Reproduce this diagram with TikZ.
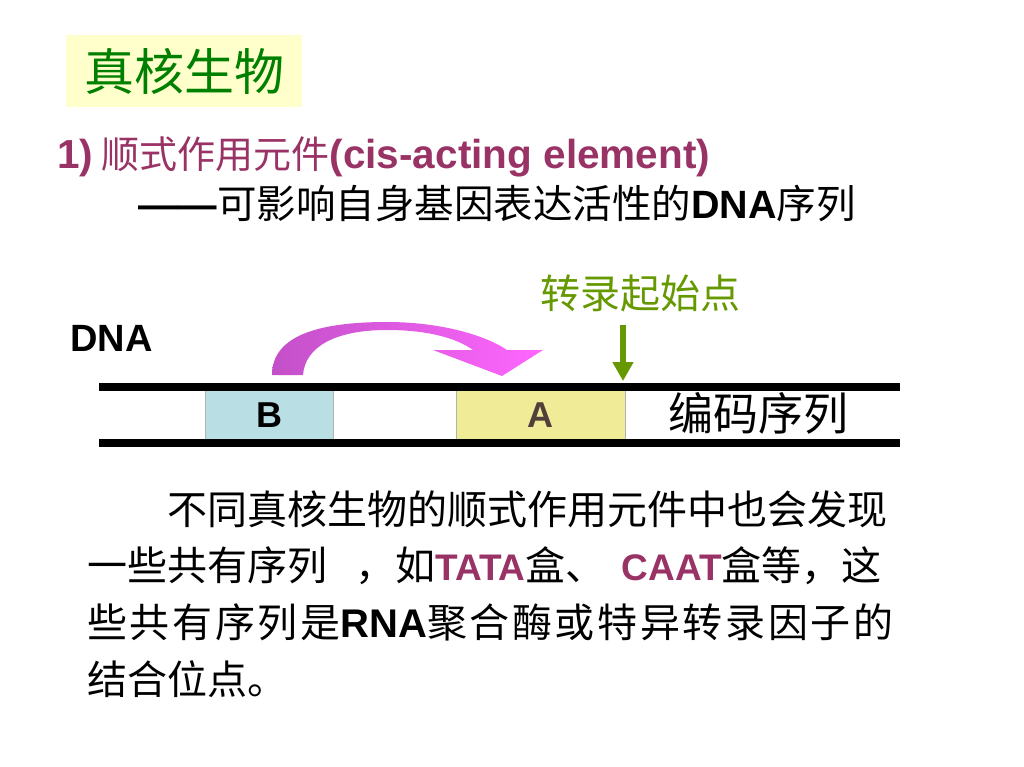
\documentclass[tikz,border=0pt]{standalone}
\usepackage{fontspec}
\setmainfont{Noto Sans CJK SC}
\newfontfamily\latfont{Liberation Sans}
\newfontfamily\cjkwide{Noto Sans CJK SC}[LetterSpace=6.6]
\usetikzlibrary{arrows.meta, positioning}
\newcommand\fsz[1]{\fontsize{#1}{#1}\selectfont}
\newcommand\lat[1]{{\latfont\bfseries #1}}
\newcommand\kw[1]{{\color{keypurple}\latfont\bfseries\fsz{37}#1}}
\definecolor{titlebg}{RGB}{255,255,204}
\definecolor{titlegreen}{RGB}{0,128,0}
\definecolor{keypurple}{RGB}{153,51,102}
\definecolor{tssgreen}{RGB}{102,153,0}
\definecolor{boxB}{RGB}{185,222,228}
\definecolor{boxA}{RGB}{240,235,150}
\definecolor{letterA}{RGB}{80,64,60}
\definecolor{pinkdark}{RGB}{195,80,200}
\definecolor{pinklight}{RGB}{255,102,255}
\tikzset{
  titlebox/.style = {fill=titlebg, text=titlegreen, minimum width=236pt, minimum height=72pt, inner sep=0pt, font=\fsz{50}},
  txt/.style = {anchor=west, inner sep=0pt, font=\fsz{40}},
  seg/.style = {draw=gray!60, line width=0.6pt, minimum height=56pt, inner sep=0pt, font=\latfont\bfseries\fsz{36}},
  dnaline/.style = {line width=8pt},
  tssarrow/.style = {-{Triangle[width=20pt,length=19pt]}, line width=6pt, draw=tssgreen},
}

\begin{document}
\begin{tikzpicture}[x=1pt, y=-1pt]

    \path[fill=white, use as bounding box] (0,0) rectangle (1024,767);

    % Heading
    \node (title) [titlebox] at (184,71) {真核生物};
    \node (cis) [txt, font=\fsz{38}, text=keypurple] at (57,157) {{\latfont\bfseries\fsz{40.5}1)} 顺式作用元件{\latfont\bfseries\fsz{40.5}(cis-acting element)}};
    \node (def) [txt, font=\fsz{39.5}] at (138,204) {\lat{——}可影响自身基因表达活性的\lat{DNA}序列};

    % DNA
    \node (dna) [txt, font=\latfont\bfseries\fsz{38}] at (70,338) {DNA};
    \node (B) [seg, fill=boxB, minimum width=128pt] at (269,415) {B};
    \node (A) [seg, fill=boxA, text=letterA, minimum width=169pt] at (540.5,415) {A};
    \node (coding) [txt, font=\fsz{45}] at (668,413) {编码序列};
    \draw [dnaline] (99,387) -- (900,387);
    \draw [dnaline] (99,443) -- (900,443);

    % Start site
    \node (tss) [txt, text=tssgreen] at (540,293) {转录起始点};
    \coordinate (site) at (623,381);
    \draw [tssarrow] ([yshift=-13pt]tss.south -| site) -- (site);

    % B acts on A
    \shade [left color=pinkdark, right color=pinklight]
      (272,375) .. controls (272,335) and (320,322) .. (387,322)
      .. controls (440,322) and (485,335) .. (507,350)
      -- (543,350) -- (502,376) -- (433,350) -- (473,350)
      .. controls (455,337) and (425,330) .. (387,330)
      .. controls (335,330) and (305,347) .. (303,375) -- cycle;

    % Paragraph
    \node (p1) [txt] at (167,509) {不同真核生物的顺式作用元件中也会发现};
    \node (p2) [txt] at (87,566) {一些共有序列\hspace{0.7em}，如\kw{TATA}盒、\hspace{0.4em}\kw{CAAT}盒等，这};
    \node (p3) [txt] at (87,622) {\cjkwide 些共有序列是\lat{RNA}聚合酶或特异转录因子的};
    \node (p4) [txt] at (87,679) {结合位点。};

\end{tikzpicture}
\end{document}
